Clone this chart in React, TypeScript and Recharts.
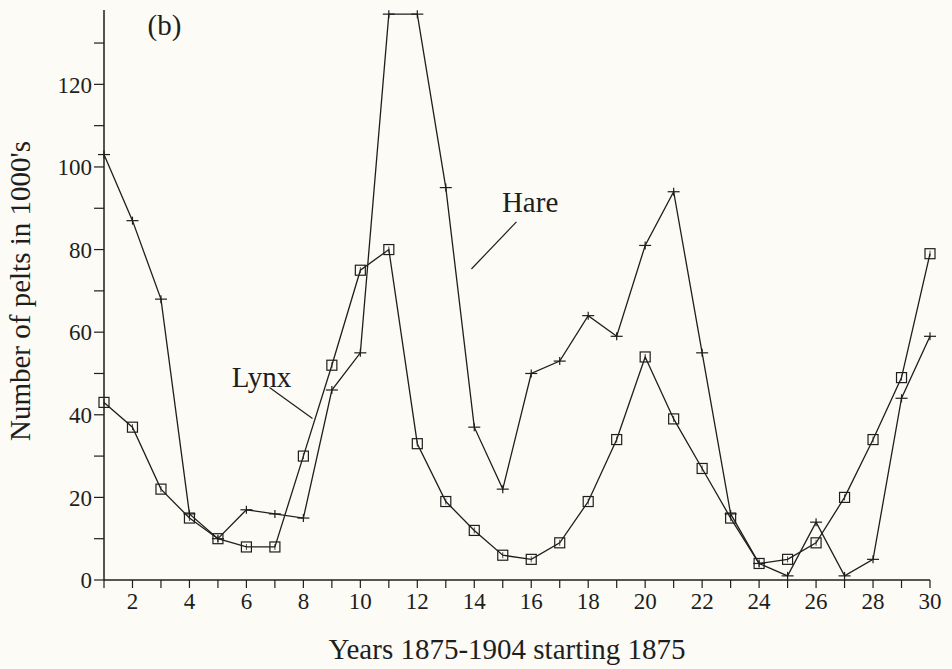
import { LineChart, Line, XAxis, YAxis, ReferenceLine, ReferenceDot, Label } from 'recharts'

const years = Array.from({ length: 30 }, (_, i) => i + 1)
const hare = [103, 87, 68, 16, 10, 17, 16, 15, 46, 55, 137, 137, 95, 37, 22, 50, 53, 64, 59, 81, 94, 55, 16, 4, 1, 14, 1, 5, 44, 59]
const lynx = [43, 37, 22, 15, 10, 8, 8, 30, 52, 75, 80, 33, 19, 12, 6, 5, 9, 19, 34, 54, 39, 27, 15, 4, 5, 9, 20, 34, 49, 79]
const yTicks = [0, 10, 20, 30, 40, 50, 60, 70, 80, 90, 100, 110, 120, 130]

const data = years.map((year, i) => ({ year, hare: hare[i], lynx: lynx[i] }))

const INK = '#1e1e1e'
const FONT = '"Liberation Serif", "DejaVu Serif", serif'

const PlusDot = (props: any) => {
  const { cx, cy } = props
  if (cx == null || cy == null) return null
  return (
    <g stroke={INK} strokeWidth={1.2}>
      <line x1={cx - 6} y1={cy} x2={cx + 6} y2={cy} />
      <line x1={cx} y1={cy - 4} x2={cx} y2={cy + 4} />
    </g>
  )
}

const SquareDot = (props: any) => {
  const { cx, cy } = props
  if (cx == null || cy == null) return null
  return (
    <g stroke={INK} strokeWidth={1.2} fill="none">
      <rect x={cx - 5} y={cy - 5} width={10} height={10} />
      <line x1={cx} y1={cy - 3} x2={cx} y2={cy + 3} strokeWidth={0.8} />
    </g>
  )
}

const XTick = (props: any) => {
  const { x, y, payload } = props
  if (payload.value % 2 !== 0) return null
  return (
    <text x={x} y={y} dy="0.71em" textAnchor="middle" fill={INK} fontSize={23} fontFamily={FONT}>
      {payload.value}
    </text>
  )
}

const YTick = (props: any) => {
  const { x, y, payload } = props
  if (payload.value % 20 !== 0) return null
  return (
    <text x={x} y={y} dy="0.36em" textAnchor="end" fill={INK} fontSize={23} fontFamily={FONT}>
      {payload.value}
    </text>
  )
}

export default function App() {
  return (
    <div style={{ position: 'absolute', left: 0, top: 0, width: 952, height: 669, background: '#fcfbf5' }}>
      <LineChart width={952} height={669} data={data} margin={{ top: 10, right: 22, left: 0, bottom: 0 }}>
        <XAxis
          dataKey="year"
          type="number"
          domain={[1, 30]}
          ticks={years}
          interval={0}
          tick={<XTick />}
          tickSize={8}
          tickMargin={5}
          height={89}
          axisLine={{ stroke: INK, strokeWidth: 1.5 }}
          tickLine={{ stroke: INK, strokeWidth: 1.2 }}
        >
          <Label value="Years 1875-1904 starting 1875" position="insideBottom" offset={10} dx={-10} fill={INK} fontSize={29} fontFamily={FONT} />
        </XAxis>
        <YAxis
          type="number"
          domain={[0, 138]}
          ticks={yTicks}
          interval={0}
          allowDataOverflow
          tick={<YTick />}
          tickSize={10}
          tickMargin={2}
          width={104}
          axisLine={{ stroke: INK, strokeWidth: 1.5 }}
          tickLine={{ stroke: INK, strokeWidth: 1.2 }}
        >
          <Label value="Number of pelts in 1000's" angle={-90} position="insideLeft" offset={20} dy={-4} fill={INK} fontSize={29} fontFamily={FONT} style={{ textAnchor: 'middle' }} />
        </YAxis>
        <ReferenceLine segment={[{ x: 15.48, y: 86.7 }, { x: 13.9, y: 75.3 }]} stroke={INK} strokeWidth={1.2} />
        <ReferenceLine segment={[{ x: 6.81, y: 46.6 }, { x: 8.32, y: 39.1 }]} stroke={INK} strokeWidth={1.2} />
        <ReferenceDot x={15.96} y={91.6} r={0} stroke="none" label={{ value: 'Hare', position: 'center', fill: INK, fontSize: 29, fontFamily: FONT }} />
        <ReferenceDot x={6.53} y={49.3} r={0} stroke="none" label={{ value: 'Lynx', position: 'center', fill: INK, fontSize: 29, fontFamily: FONT }} />
        <ReferenceDot x={3.12} y={134.5} r={0} stroke="none" label={{ value: '(b)', position: 'center', fill: INK, fontSize: 29, fontFamily: FONT }} />
        <Line dataKey="hare" type="linear" stroke={INK} strokeWidth={1.3} dot={<PlusDot />} isAnimationActive={false} />
        <Line dataKey="lynx" type="linear" stroke={INK} strokeWidth={1.3} dot={<SquareDot />} isAnimationActive={false} />
      </LineChart>
    </div>
  )
}
